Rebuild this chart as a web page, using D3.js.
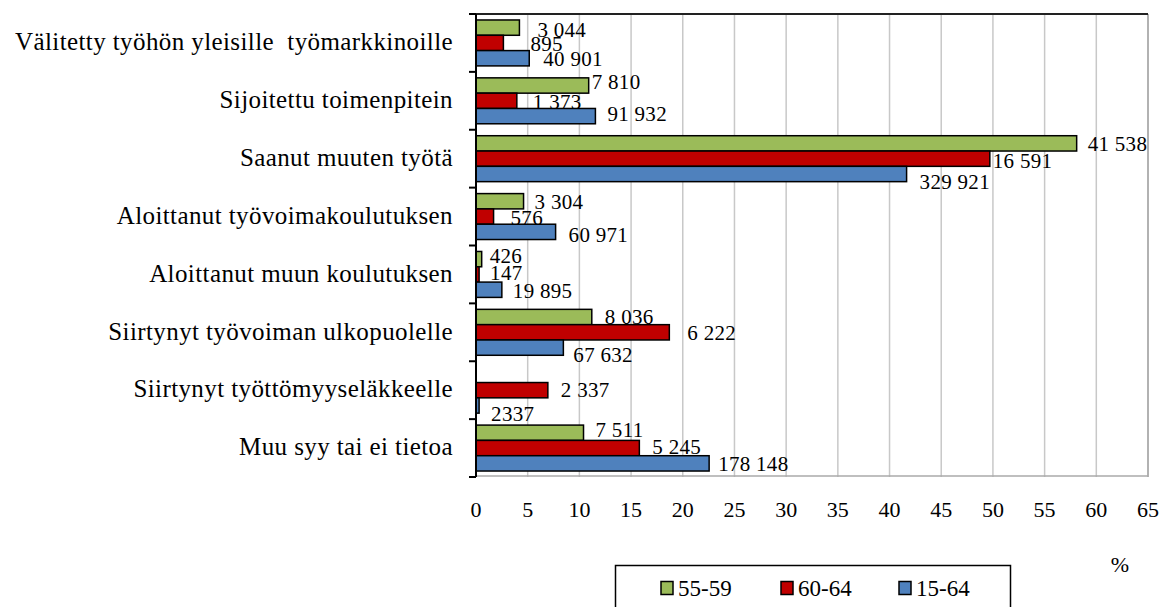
<!DOCTYPE html>
<html>
<head>
<meta charset="utf-8">
<script src="https://cdn.jsdelivr.net/npm/d3@7"></script>
<style>
  body { margin: 0; background: #fff; }
  svg text { font-family: "Liberation Serif", Tinos, "DejaVu Serif", "Times New Roman", Times, serif; }
  .cat { white-space: pre; }
</style>
</head>
<body>
<div id="chart"></div>
<script>
const categories = [
  "Välitetty työhön yleisille  työmarkkinoille",
  "Sijoitettu toimenpitein",
  "Saanut muuten työtä",
  "Aloittanut työvoimakoulutuksen",
  "Aloittanut muun koulutuksen",
  "Siirtynyt työvoiman ulkopuolelle",
  "Siirtynyt työttömyyseläkkeelle",
  "Muu syy tai ei tietoa",
];
const seriesNames = ["55-59", "60-64", "15-64"];
const seriesColors = ["#9BBB59", "#C00000", "#4F81BD"];

// percent values
const values5559 = [4.2, 10.9, 58.1, 4.6, 0.55, 11.2, 0, 10.4];
const values6064 = [2.65, 3.95, 49.7, 1.7, 0.3, 18.7, 6.95, 15.8];
const values1564 = [5.15, 11.55, 41.65, 7.7, 2.5, 8.45, 0.3, 22.55];

// counts printed next to bars
const labels5559 = ["3 044", "7 810", "41 538", "3 304", "426", "8 036", "", "7 511"];
const labels6064 = ["895", "1 373", "16 591", "576", "147", "6 222", "2 337", "5 245"];
const labels1564 = ["40 901", "91 932", "329 921", "60 971", "19 895", "67 632", "2337", "178 148"];

const xTickValues = [0, 5, 10, 15, 20, 25, 30, 35, 40, 45, 50, 55, 60, 65];

const width = 1160, height = 607;
const plot = { left: 476, right: 1148, top: 14, bottom: 477 };
const serif = '"Liberation Serif", Tinos, "DejaVu Serif", "Times New Roman", Times, serif';

const svg = d3.select("#chart").append("svg")
  .attr("width", width)
  .attr("height", height)
  .attr("font-family", serif);

const x = d3.scaleLinear().domain([0, 65]).range([plot.left, plot.right]);
const y = d3.scaleBand().domain(categories).range([plot.top, plot.bottom]);
const inner = d3.scaleBand().domain(seriesNames)
  .range([0, y.bandwidth()]).paddingOuter(0.39);

// gridlines
svg.append("g")
  .selectAll("line")
  .data(xTickValues.filter((d) => d > 0 && d < 65))
  .join("line")
  .attr("x1", (d) => x(d)).attr("x2", (d) => x(d))
  .attr("y1", plot.top).attr("y2", plot.bottom)
  .attr("stroke", "#c8c8c8")
  .attr("stroke-width", 1.5);

// frame: right + bottom gray, top dark
svg.append("line")
  .attr("x1", x(65)).attr("x2", x(65))
  .attr("y1", plot.top).attr("y2", plot.bottom)
  .attr("stroke", "#999").attr("stroke-width", 1.5);
svg.append("line")
  .attr("x1", plot.left).attr("x2", plot.right)
  .attr("y1", plot.bottom - 1).attr("y2", plot.bottom - 1)
  .attr("stroke", "#aaa").attr("stroke-width", 1.5);
svg.append("line")
  .attr("x1", plot.left).attr("x2", plot.right)
  .attr("y1", plot.top).attr("y2", plot.top)
  .attr("stroke", "#222").attr("stroke-width", 2);

// bars
const seriesValues = [values5559, values6064, values1564];
const seriesLabels = [labels5559, labels6064, labels1564];

const rows = [];
categories.forEach((c, i) => {
  seriesNames.forEach((s, j) => {
    rows.push({ cat: c, ser: s, j, i, v: seriesValues[j][i], label: seriesLabels[j][i] });
  });
});

svg.append("g")
  .selectAll("rect")
  .data(rows.filter((d) => d.v > 0))
  .join("rect")
  .attr("x", x(0))
  .attr("y", (d) => y(d.cat) + inner(d.ser))
  .attr("width", (d) => x(d.v) - x(0))
  .attr("height", inner.bandwidth())
  .attr("fill", (d) => seriesColors[d.j])
  .attr("stroke", "#000")
  .attr("stroke-width", 1.5);

// small hand nudges for the value labels [dx, dy], per category, per series
const nudges = [
  [[6, 2], [15, 1], [2, 1]],
  [[-9, -4], [4, 1], [0, -2]],
  [[-1, 0], [-9, 2], [1, 8]],
  [[-1, 1], [5, 1], [1, 3]],
  [[-4, -3], [-1, -2], [-1, 1]],
  [[1, 0], [6, 1], [-2, 7]],
  [[0, 0], [1, 0], [0, 8]],
  [[0, -3], [1, -1], [-3, 0]],
];

svg.append("g")
  .selectAll("text")
  .data(rows.filter((d) => d.label !== ""))
  .join("text")
  .attr("x", (d) => x(d.v) + 12 + nudges[d.i][d.j][0])
  .attr("y", (d) => y(d.cat) + inner(d.ser) + inner.bandwidth() / 2 + nudges[d.i][d.j][1])
  .attr("dy", "0.34em")
  .attr("font-size", 21)
  .attr("letter-spacing", 0.3)
  .attr("fill", "#000")
  .text((d) => d.label);

// left axis
const yAxis = svg.append("g")
  .attr("transform", `translate(${plot.left},0)`);
yAxis.append("line")
  .attr("x1", 0).attr("x2", 0)
  .attr("y1", plot.top).attr("y2", plot.bottom)
  .attr("stroke", "#000").attr("stroke-width", 2);
yAxis.selectAll("line.tick")
  .data(d3.range(categories.length + 1))
  .join("line")
  .attr("class", "tick")
  .attr("x1", -7).attr("x2", 0)
  .attr("y1", (d) => plot.top + d * y.step())
  .attr("y2", (d) => plot.top + d * y.step())
  .attr("stroke", "#000").attr("stroke-width", 2);

svg.append("g")
  .selectAll("text")
  .data(categories)
  .join("text")
  .attr("class", "cat")
  .attr("x", 453)
  .attr("y", (d) => y(d) + y.bandwidth() / 2 - 1.5)
  .attr("dy", "0.35em")
  .attr("text-anchor", "end")
  .attr("font-size", 25)
  .attr("letter-spacing", 0.4)
  .text((d) => d);

// bottom tick labels
svg.append("g")
  .selectAll("text")
  .data(xTickValues)
  .join("text")
  .attr("x", (d) => x(d))
  .attr("y", 509)
  .attr("dy", "0.35em")
  .attr("text-anchor", "middle")
  .attr("font-size", 22)
  .text((d) => d);

svg.append("text")
  .attr("x", 1120).attr("y", 564)
  .attr("dy", "0.35em")
  .attr("text-anchor", "middle")
  .attr("font-size", 22)
  .text("%");

// legend
const legend = svg.append("g");
legend.append("rect")
  .attr("x", 615.5).attr("y", 565.5)
  .attr("width", 395).attr("height", 60)
  .attr("fill", "#fff")
  .attr("stroke", "#000").attr("stroke-width", 1.5);

const legendX = [661, 781, 899];
const item = legend.selectAll("g.item")
  .data(seriesNames)
  .join("g")
  .attr("class", "item")
  .attr("transform", (d, i) => `translate(${legendX[i]},588)`);
item.append("rect")
  .attr("x", 0).attr("y", -6.5)
  .attr("width", 12).attr("height", 13)
  .attr("fill", (d, i) => seriesColors[i])
  .attr("stroke", "#000").attr("stroke-width", 1.5);
item.append("text")
  .attr("x", 17).attr("y", 0)
  .attr("dy", "0.35em")
  .attr("font-size", 23)
  .text((d) => d);
</script>
</body>
</html>
